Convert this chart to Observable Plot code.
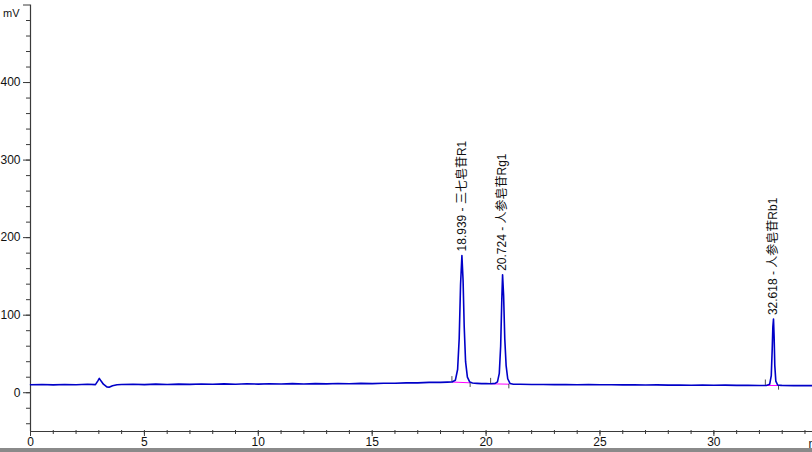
<!DOCTYPE html>
<html>
<head>
<meta charset="utf-8">
<script src="https://cdn.jsdelivr.net/npm/d3@7"></script>
<script src="https://cdn.jsdelivr.net/npm/@observablehq/plot@0.6"></script>
<style>
  html, body { margin: 0; padding: 0; background: #fff; }
  #wrap { position: relative; width: 812px; height: 452px; overflow: hidden; }
  #bar { position: absolute; left: 0; bottom: 0; width: 812px; height: 4px; background: #8a8a8a; }
  svg { display: block; }
</style>
</head>
<body>
<div id="wrap"><div id="chart"></div><div id="bar"></div></div>
<script>
// Chromatogram trace (time in min, signal in mV)
const times = [
  0, 0.5, 1, 1.5, 2, 2.5, 2.85, 2.95, 3.02, 3.1, 3.2, 3.35, 3.45, 3.6, 3.8,
  4, 4.5, 5, 5.5, 6, 6.5, 7, 7.5, 8, 8.5, 9, 9.5, 10, 10.5, 11, 11.5, 12, 12.5,
  13, 13.5, 14, 14.5, 15, 15.5, 16, 16.5, 17, 17.5, 18, 18.3, 18.5,
  18.65, 18.75, 18.82, 18.88, 18.939, 18.99, 19.04, 19.1, 19.18, 19.28, 19.4,
  19.6, 19.8, 20.0, 20.2, 20.4,
  20.5, 20.58, 20.64, 20.69, 20.724, 20.77, 20.82, 20.88, 20.95, 21.05,
  21.2, 21.5, 22, 22.5, 23, 23.5, 24, 24.5, 25, 25.5, 26, 26.5, 27, 27.5, 28,
  28.5, 29, 29.5, 30, 30.5, 31, 31.5, 32, 32.3,
  32.45, 32.52, 32.56, 32.59, 32.618, 32.645, 32.675, 32.72, 32.8, 32.95,
  33, 33.5, 34, 34.33
];
const signal = [
  10.2, 10.6, 10.1, 10.7, 10.3, 10.9, 10.5, 15, 18.5, 15, 11, 7.5, 7, 9, 10.3,
  10.6, 10.9, 10.5, 11.1, 10.7, 11.1, 10.8, 11.3, 10.9, 11.4, 11.0, 11.5, 11.1, 11.6, 11.2, 11.7, 11.3, 11.8,
  11.4, 11.9, 11.5, 12.0, 11.8, 12.3, 12.2, 12.7, 12.7, 13.3, 13.3, 13.7, 13.8,
  16, 30, 70, 140, 177, 145, 85, 40, 20, 14, 12.5,
  12.1, 11.7, 11.7, 11.5, 12,
  14, 25, 60, 120, 152, 125, 70, 35, 18, 12,
  11, 10.9, 10.6, 10.7, 10.4, 10.6, 10.3, 10.5, 10.2, 10.3, 10.1, 10.2, 9.9, 10.1, 9.8,
  10.0, 9.7, 9.9, 9.6, 9.8, 9.5, 9.6, 9.3, 9.4,
  11, 22, 55, 85, 95, 72, 35, 15, 10, 9.5,
  9.3, 9.1, 9.3, 9.1
];

// Identified peaks
const peakTimes = [18.939, 20.724, 32.618];
const peakHeights = [177, 152, 95];
const peakNames = ["三七皂苷R1", "人参皂苷Rg1", "人参皂苷Rb1"];

// Integration baselines (start/end of each peak)
const peakStartT = [18.5, 20.2, 32.26];
const peakStartV = [13.8, 11.5, 9.4];
const peakEndT = [19.3, 21.0, 32.84];
const peakEndV = [12.8, 11.0, 9.3];

// Axis ticks
const xMajor = [0, 5, 10, 15, 20, 25, 30];
const xMinor = d3.range(0, 35, 1);
const yMajor = [0, 100, 200, 300, 400, 500];
const yLabeled = [0, 100, 200, 300, 400];
const yMinor = d3.range(-40, 500, 20);

const trace = times.map((t, i) => ({t, v: signal[i]}));
const peaks = peakTimes.map((t, i) => ({t, v: peakHeights[i], label: `${t.toFixed(3)} - ${peakNames[i]}`}));
const bases = peakStartT.map((t, i) => ({x1: t, y1: peakStartV[i], x2: peakEndT[i], y2: peakEndV[i]}));
const starts = peakStartT.map((t, i) => ({t, v: peakStartV[i]}));
const ends = peakEndT.map((t, i) => ({t, v: peakEndV[i]}));

const font = "'Liberation Sans', Arial, 'Noto Sans CJK SC', sans-serif";
const axisColor = "#3a3a3a";

const chart = Plot.plot({
  width: 812,
  height: 452,
  marginLeft: 30,
  marginRight: 0,
  marginTop: 4.5,
  marginBottom: 21,
  style: {fontFamily: font, fontSize: "12px", color: "#111", background: "#fff"},
  x: {domain: [0, 34.33], axis: null},
  y: {domain: [-50, 500], axis: null},
  marks: [
    // minor ticks
    Plot.axisX({ticks: xMinor, tickSize: 4, dy: -1, tickFormat: () => "", stroke: axisColor, label: null}),
    Plot.axisY({ticks: yMinor, tickSize: 4, tickFormat: () => "", stroke: axisColor, label: null}),
    // major ticks + labels
    Plot.axisX({ticks: xMajor, tickSize: 5, tickPadding: 1, stroke: axisColor, fill: "#111", label: null, fontSize: 12}),
    Plot.axisY({ticks: yMajor, tickSize: 7, tickPadding: 3, tickFormat: d => yLabeled.includes(d) ? String(d) : "", stroke: axisColor, fill: "#111", label: null, fontSize: 12}),
    // axis lines
    Plot.ruleX([0], {y1: -50, y2: 500, stroke: axisColor, strokeWidth: 1.2}),
    Plot.ruleY([-50], {stroke: axisColor, strokeWidth: 1.2}),
    // unit labels
    Plot.text(["mV"], {x: 0, y: 489, text: d => d, textAnchor: "end", dx: -11, fontSize: 11, fill: "#111"}),
    Plot.text(["min"], {x: 34.33, y: -50, text: d => d, textAnchor: "start", dx: -4, dy: 13, fontSize: 12, fill: "#111"}),
    // integration baselines
    Plot.link(bases, {x1: "x1", y1: "y1", x2: "x2", y2: "y2", stroke: "#ff00ff", strokeWidth: 1}),
    // peak start / end markers
    Plot.ruleX(starts, {x: "t", y1: d => d.v, y2: d => d.v + 7, stroke: "#222", strokeWidth: 0.8}),
    Plot.ruleX(ends, {x: "t", y1: d => d.v, y2: d => d.v - 6, stroke: "#222", strokeWidth: 0.8}),
    // trace
    Plot.line(trace, {x: "t", y: "v", stroke: "#0000c8", strokeWidth: 1.6, curve: "linear"}),
    // peak labels
    Plot.text(peaks, {x: "t", y: "v", text: "label", rotate: -90, textAnchor: "start", dy: -4, fontSize: 12, fill: "#111"})
  ]
});
document.getElementById("chart").appendChild(chart);
</script>
</body>
</html>
